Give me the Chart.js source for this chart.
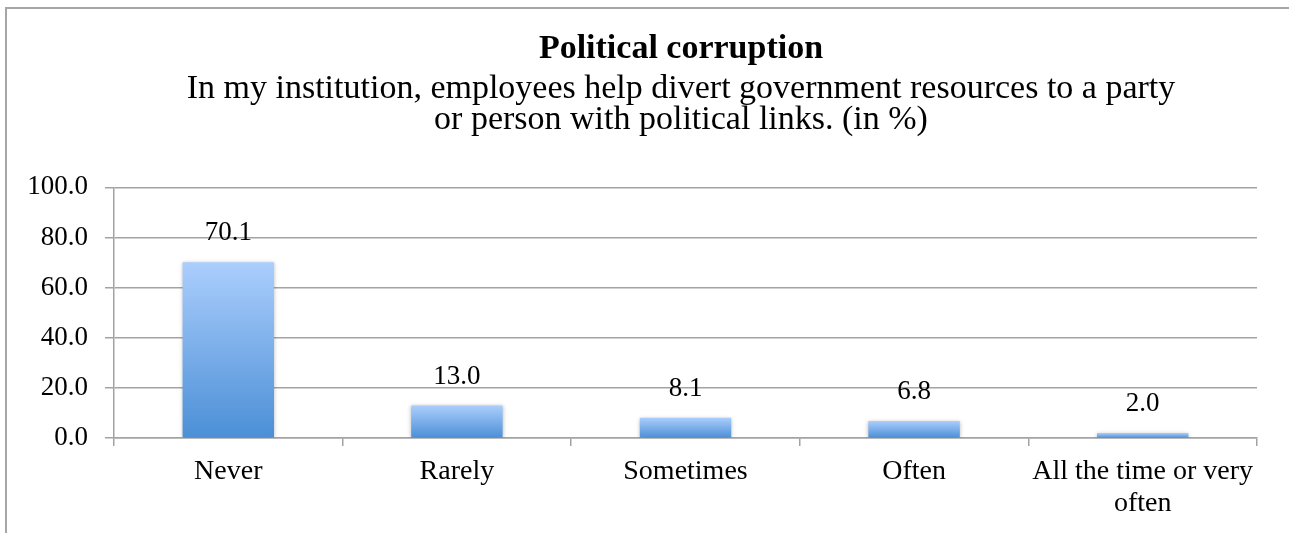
<!DOCTYPE html>
<html>
<head>
<meta charset="utf-8">
<script src="https://cdn.jsdelivr.net/npm/chart.js@4/dist/chart.umd.min.js"></script>
<style>
  html, body { margin: 0; padding: 0; background: #fff; overflow: hidden; }
  #frame {
    position: absolute; left: 5px; top: 7px; width: 1400px; height: 600px;
    border-left: 2px solid #a6a6a6; border-top: 2px solid #a6a6a6;
  }
  #chart { position: absolute; left: 0; top: 0; }
</style>
</head>
<body>
<div id="frame"></div>
<canvas id="chart" width="1362" height="533"></canvas>
<script>
const categories = ['Never', 'Rarely', 'Sometimes', 'Often', ['All the time or very', 'often']];
const shares = [70.1, 13.0, 8.1, 6.8, 2.0];
const yTicks = [0, 20, 40, 60, 80, 100];

const FONT = '"Liberation Serif", "Times New Roman", serif';
const gridGray = '#a3a3a3';

// light blue at the top of each bar, darker at its base
function barGradient(c) {
  const chart = c.chart;
  const y = chart.scales.y;
  if (c.type !== 'data' || !y || !chart.chartArea) return '#6fa6e6';
  const top = y.getPixelForValue(shares[c.dataIndex]);
  const base = y.getPixelForValue(0);
  const g = chart.ctx.createLinearGradient(0, top, 0, base);
  g.addColorStop(0, '#abcefd');
  g.addColorStop(1, '#4b8fd6');
  return g;
}

const barLabels = {
  id: 'barLabels',
  beforeDatasetsDraw(chart) {
    const ctx = chart.ctx;
    ctx.save();
    ctx.shadowColor = 'rgba(0,0,0,0.28)';
    ctx.shadowBlur = 4;
    ctx.shadowOffsetY = 1;
  },
  afterDatasetsDraw(chart) {
    const ctx = chart.ctx;
    ctx.restore();
    ctx.save();
    ctx.font = '27px ' + FONT;
    ctx.fillStyle = '#000';
    ctx.textAlign = 'center';
    ctx.textBaseline = 'middle';
    chart.getDatasetMeta(0).data.forEach((bar, i) => {
      ctx.fillText(shares[i].toFixed(1), bar.x, bar.y - 29);
    });
    ctx.restore();
  }
};

new Chart(document.getElementById('chart'), {
  type: 'bar',
  data: {
    labels: categories,
    datasets: [{
      label: 'Political corruption',
      data: shares,
      backgroundColor: barGradient,
      borderWidth: 0,
      categoryPercentage: 1,
      barPercentage: 0.4
    }]
  },
  options: {
    responsive: false,
    animation: false,
    layout: { padding: 0 },
    plugins: {
      legend: { display: false },
      tooltip: { enabled: false },
      title: {
        display: true,
        text: 'Political corruption',
        color: '#000',
        font: { family: FONT, size: 34, weight: 'bold', lineHeight: 1.2 },
        padding: { top: 29, bottom: 0 }
      },
      subtitle: {
        display: true,
        text: ['In my institution, employees help divert government resources to a party',
               'or person with political links. (in %)'],
        color: '#000',
        font: { family: FONT, size: 34, lineHeight: 31 / 34 },
        padding: { top: 4, bottom: 51.5 }
      }
    },
    scales: {
      x: {
        afterFit(s) { s.height = 95; },
        grid: {
          offset: true,
          drawOnChartArea: false,
          drawTicks: true,
          tickLength: 8,
          color: gridGray,
          lineWidth: 1.5
        },
        border: { display: true, color: gridGray, width: 1.5 },
        ticks: {
          color: '#000',
          padding: 10,
          maxRotation: 0,
          autoSkip: false,
          font: { family: FONT, size: 28, lineHeight: 32 / 28 }
        }
      },
      y: {
        min: 0,
        max: 100,
        afterFit(s) { s.width = 114; },
        afterBuildTicks(s) { s.ticks = yTicks.map(v => ({ value: v })); },
        grid: {
          color: gridGray,
          lineWidth: 1.5,
          drawTicks: true,
          tickLength: 9
        },
        border: { display: true, color: gridGray, width: 1.5 },
        ticks: {
          color: '#000',
          padding: 17,
          font: { family: FONT, size: 27 },
          callback: v => Number(v).toFixed(1)
        }
      },
      // empty right-hand axis, only reserves the margin past the plot
      pad: {
        type: 'linear',
        position: 'right',
        display: true,
        afterFit(s) { s.width = 105; },
        grid: { display: false },
        border: { display: false },
        ticks: { display: false }
      }
    }
  },
  plugins: [barLabels]
});
</script>
</body>
</html>
